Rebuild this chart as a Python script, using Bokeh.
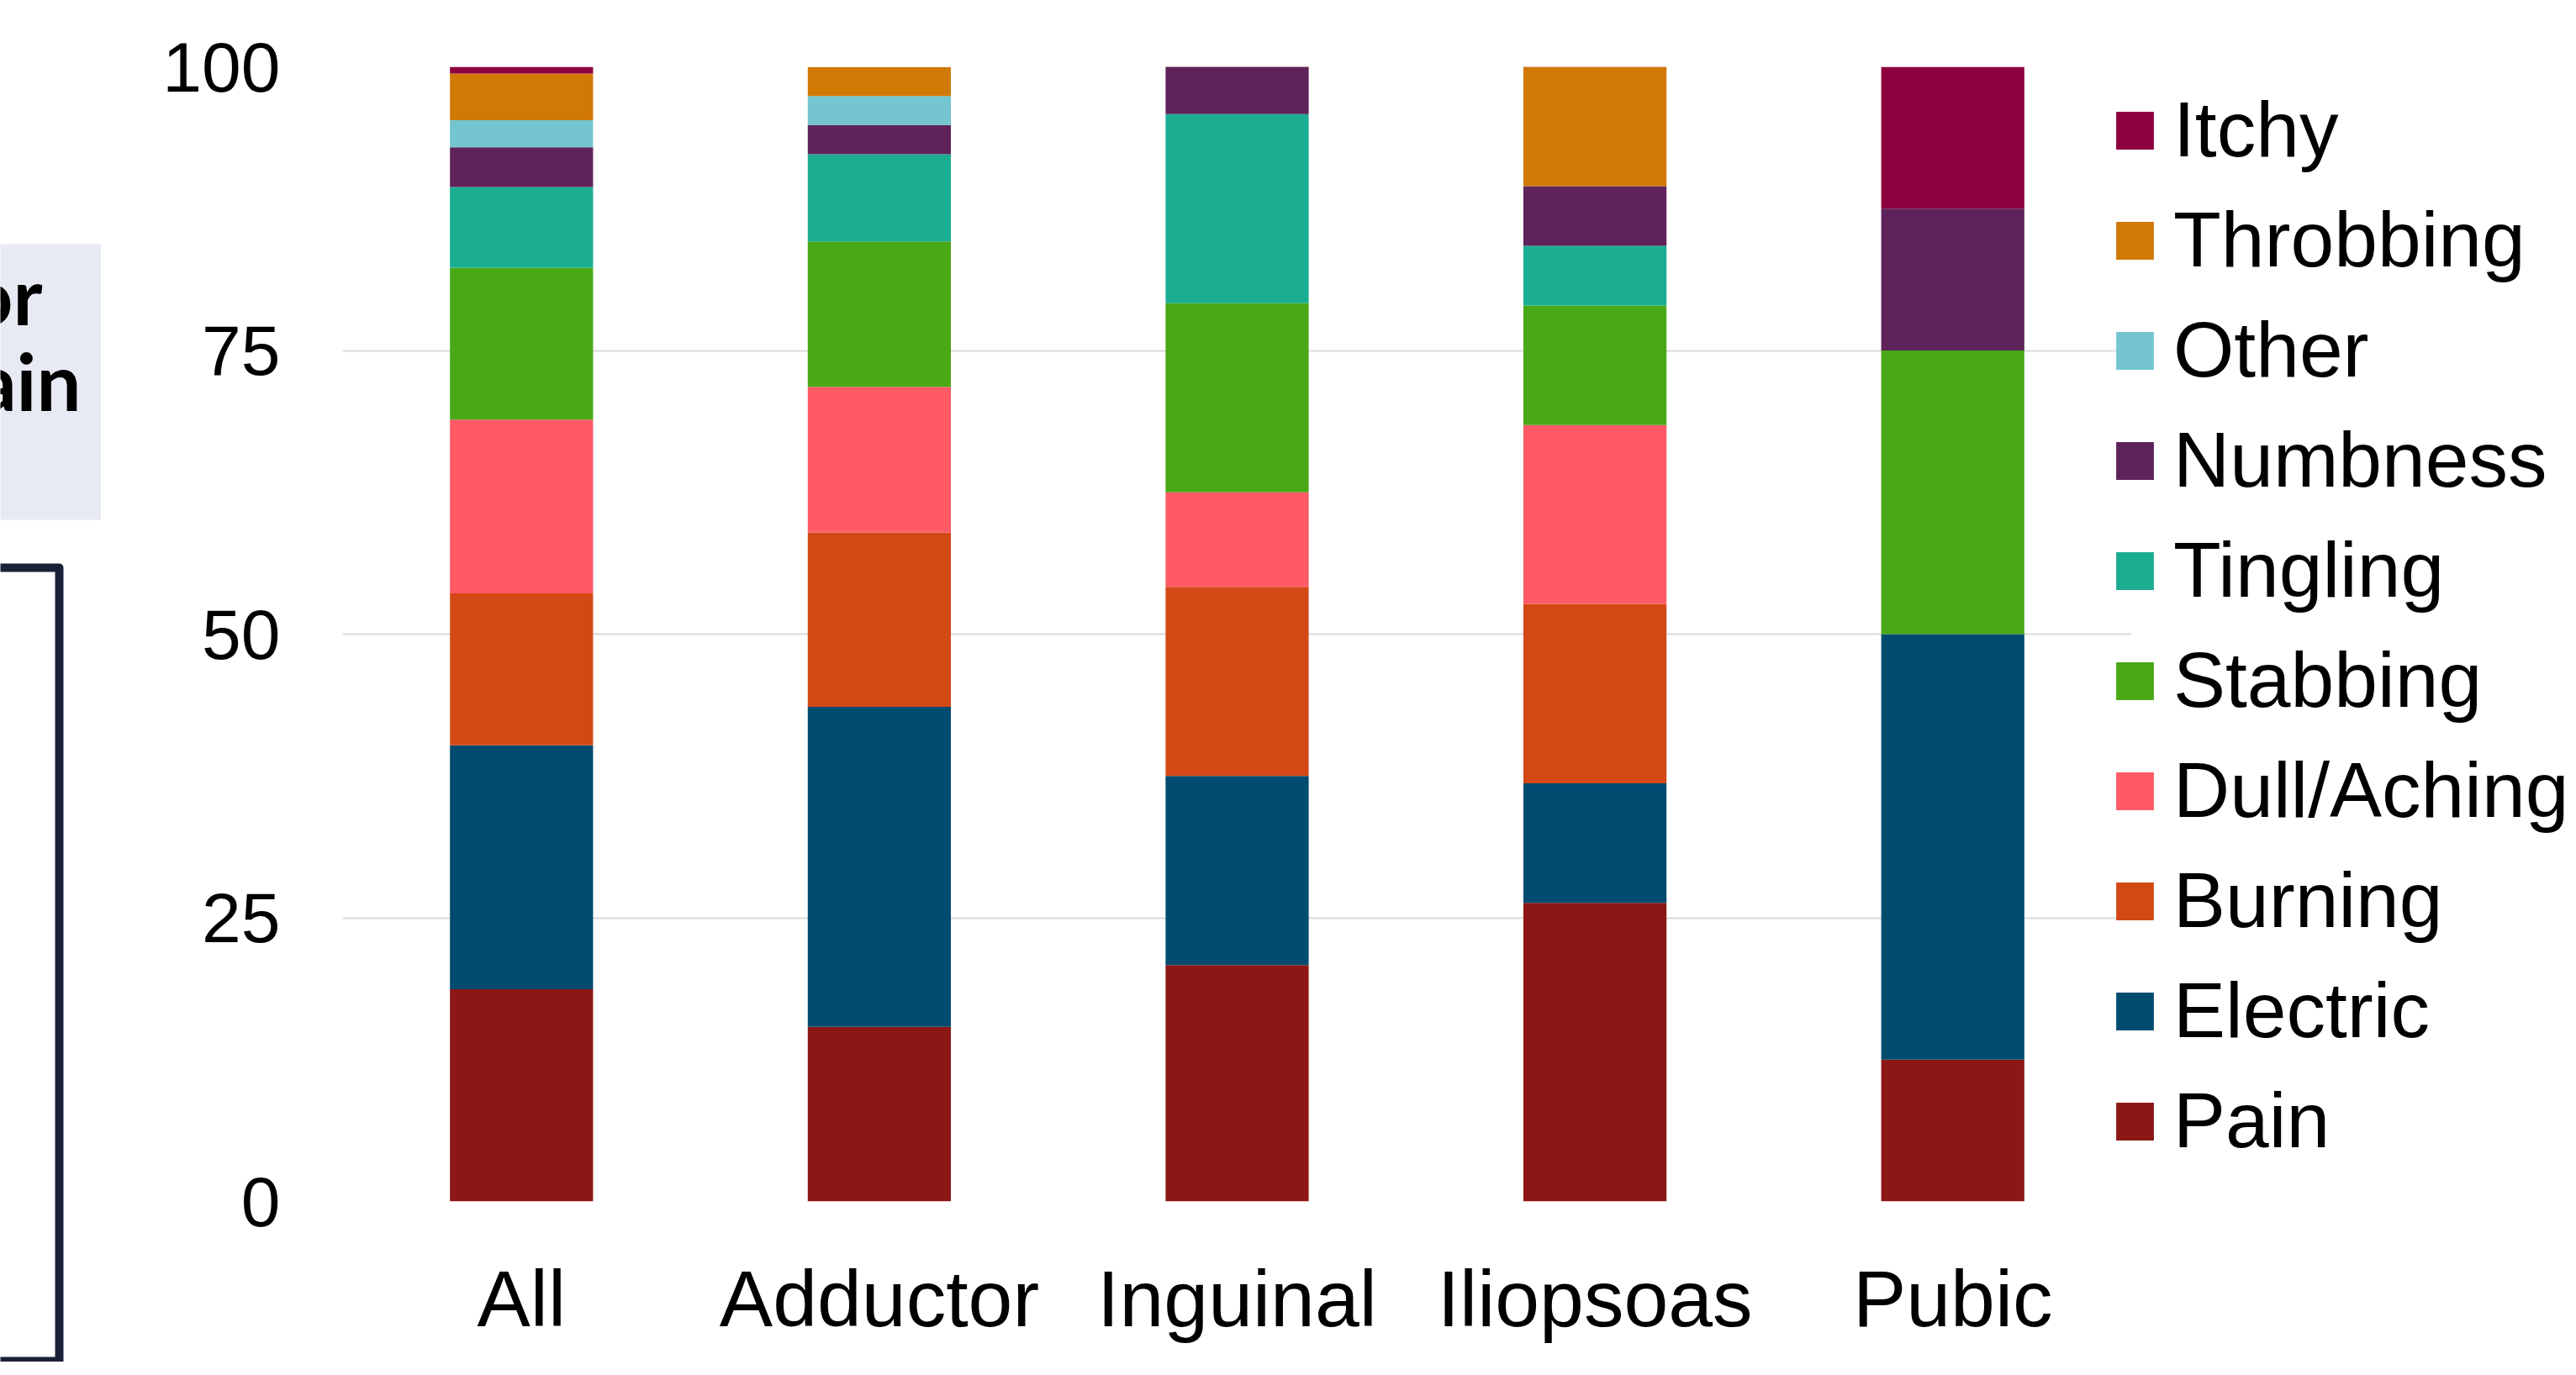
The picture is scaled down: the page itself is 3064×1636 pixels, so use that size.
from bokeh.plotting import figure
from bokeh.models import (ColumnDataSource, FactorRange, Range1d, FixedTicker,
                          Legend, LegendItem)
from bokeh.layouts import row
from bokeh.core.properties import value
from bokeh.embed import file_html
from bokeh.resources import INLINE

# ---------------- data (percent of respondents) ----------------
categories = ["All", "Adductor", "Inguinal", "Iliopsoas", "Pubic"]
symptoms = ["Pain", "Electric", "Burning", "Dull/Aching", "Stabbing",
            "Tingling", "Numbness", "Other", "Throbbing", "Itchy"]
pain      = [18.7, 15.38, 20.83, 26.32, 12.5]
electric  = [21.5, 28.21, 16.67, 10.53, 37.5]
burning   = [13.4, 15.38, 16.67, 15.79, 0.0]
dull      = [15.3, 12.82, 8.33, 15.79, 0.0]
stabbing  = [13.4, 12.82, 16.67, 10.53, 25.0]
tingling  = [7.1, 7.69, 16.67, 5.26, 0.0]
numbness  = [3.5, 2.56, 4.17, 5.26, 12.5]
other     = [2.4, 2.56, 0.0, 0.0, 0.0]
throbbing = [4.1, 2.56, 0.0, 10.53, 0.0]
itchy     = [0.6, 0.0, 0.0, 0.0, 12.5]
y_ticks = [0, 25, 50, 75, 100]

colors = ["#8C1815", "#004C70", "#D34916", "#FF5A66", "#49A816",
          "#1BAD92", "#5E235B", "#74C5D0", "#D17905", "#8E003E"]

series = [pain, electric, burning, dull, stabbing, tingling,
          numbness, other, throbbing, itchy]
data = {"cat": categories}
for name, vals in zip(symptoms, series):
    data[name] = vals
source = ColumnDataSource(data)

FONT = "Liberation Sans"

# ---------------- left fragment (cropped slide content) ----------------
left = figure(width=120, height=1620, x_range=Range1d(-1, 119),
              y_range=Range1d(1619, -1), output_backend="svg",
              toolbar_location=None, min_border=0)
left.frame_align = False
left.axis.visible = False
left.grid.visible = False
left.outline_line_color = None
left.quad(left=[-20], right=[121], top=[289], bottom=[617],
          fill_color="#E8EAF3", line_color=None)
left.text(x=[49, 95], y=[349, 451], text=["or", "ain"], text_align="right",
          text_baseline="alphabetic", text_font=value("Lato"),
          text_font_style="bold", text_font_size="94px", text_color="black")
left.quad(left=[-40], right=[69], top=[674], bottom=[1618],
          fill_color=None, line_color="#1B2036", line_width=10,
          line_join="round")

# ---------------- main chart ----------------
p = figure(x_range=FactorRange(*categories), y_range=Range1d(0, 100),
           frame_width=2128, frame_height=1350,
           min_border_left=287, min_border_right=521,
           min_border_top=79, min_border_bottom=191,
           output_backend="svg", toolbar_location=None)
p.frame_align = False

renderers = p.vbar_stack(symptoms, x="cat", width=0.4, source=source,
                         color=colors, line_color=None)

p.outline_line_color = None
p.xgrid.visible = False
p.ygrid.grid_line_color = "#D9D9D9"
p.ygrid.grid_line_width = 2
p.yaxis.ticker = FixedTicker(ticks=y_ticks)

for ax in (p.xaxis, p.yaxis):
    ax.axis_line_color = None
    ax.major_tick_line_color = None
    ax.minor_tick_line_color = None
    ax.major_tick_out = 0
    ax.major_tick_in = 0
    ax.major_label_text_font = FONT
    ax.major_label_text_color = "black"

p.yaxis.major_label_text_font_size = "84px"
p.yaxis.major_label_standoff = 74
p.xaxis.major_label_text_font_size = "95px"
p.xaxis.major_label_standoff = 62

items = [LegendItem(label=name, renderers=[r])
         for name, r in zip(symptoms, renderers)][::-1]
legend = Legend(items=items, location=(-24, 42),
                label_text_font=FONT, label_text_font_size="93px",
                label_text_color="black", glyph_width=56, glyph_height=56,
                label_height=104, label_standoff=18, spacing=24,
                padding=0, margin=0,
                border_line_color=None, background_fill_alpha=0)
p.add_layout(legend, "right")

layout = row(left, p)
open("out.html", "w").write(file_html(layout, INLINE))
